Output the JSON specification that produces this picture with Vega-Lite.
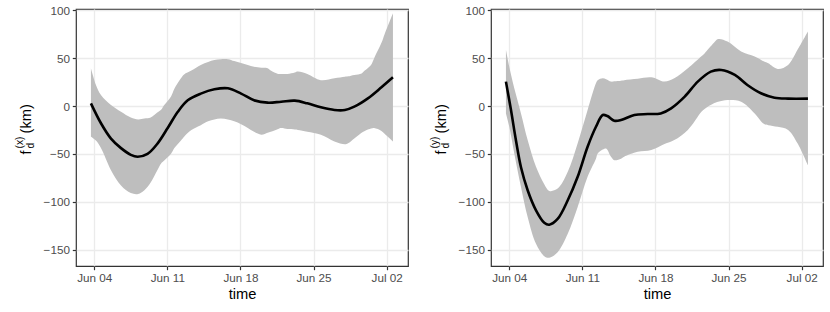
{
  "$schema": "https://vega.github.io/schema/vega-lite/v6.json",
  "padding": {"left": 13, "top": 4, "right": 0, "bottom": 0},
  "bounds": "flush",
  "spacing": 83,
  "config": {
    "view": {"stroke": "#333333", "strokeWidth": 1.2},
    "axis": {"domain": false, "tickColor": "#333333", "tickSize": 3.7, "tickWidth": 1.2, "labelColor": "#4D4D4D", "labelFont": "Liberation Sans", "labelFontSize": 11.7, "labelPadding": 2.9, "titleFont": "Liberation Sans", "titleFontSize": 14.7, "titleFontWeight": "normal", "titleColor": "#000000", "gridColor": "#EBEBEB", "gridWidth": 1.3}
  },
  "datasets": {
    "lx_band": [
      {"t": "2020-06-03T16:19", "lo": -32, "hi": 39.5},
      {"t": "2020-06-04T03:50", "lo": -36, "hi": 22},
      {"t": "2020-06-04T15:22", "lo": -44, "hi": 11.5},
      {"t": "2020-06-05T14:24", "lo": -67, "hi": 1},
      {"t": "2020-06-06T13:26", "lo": -83, "hi": -6},
      {"t": "2020-06-07T12:00", "lo": -91, "hi": -12},
      {"t": "2020-06-08T04:48", "lo": -92, "hi": -14},
      {"t": "2020-06-08T19:12", "lo": -88, "hi": -13},
      {"t": "2020-06-09T09:36", "lo": -80, "hi": -12},
      {"t": "2020-06-10T00:00", "lo": -68, "hi": -7},
      {"t": "2020-06-10T09:36", "lo": -60, "hi": -4},
      {"t": "2020-06-10T16:48", "lo": -57, "hi": 1},
      {"t": "2020-06-11T08:24", "lo": -50, "hi": 10},
      {"t": "2020-06-11T16:05", "lo": -44, "hi": 18},
      {"t": "2020-06-12T07:12", "lo": -36, "hi": 29},
      {"t": "2020-06-12T14:24", "lo": -32, "hi": 33},
      {"t": "2020-06-13T07:12", "lo": -25, "hi": 37},
      {"t": "2020-06-14T04:48", "lo": -20, "hi": 43},
      {"t": "2020-06-14T21:36", "lo": -16, "hi": 46},
      {"t": "2020-06-15T12:00", "lo": -14, "hi": 48},
      {"t": "2020-06-16T02:24", "lo": -13, "hi": 49},
      {"t": "2020-06-16T19:12", "lo": -14, "hi": 49},
      {"t": "2020-06-17T09:36", "lo": -16, "hi": 47},
      {"t": "2020-06-18T01:26", "lo": -19, "hi": 45},
      {"t": "2020-06-18T16:48", "lo": -23, "hi": 43},
      {"t": "2020-06-19T07:12", "lo": -27, "hi": 41},
      {"t": "2020-06-20T00:00", "lo": -30, "hi": 40},
      {"t": "2020-06-20T14:24", "lo": -28, "hi": 39.5},
      {"t": "2020-06-20T21:36", "lo": -27, "hi": 37},
      {"t": "2020-06-21T14:24", "lo": -24, "hi": 33.5},
      {"t": "2020-06-21T21:36", "lo": -23, "hi": 33.5},
      {"t": "2020-06-22T12:00", "lo": -24, "hi": 33.5},
      {"t": "2020-06-23T04:48", "lo": -24.5, "hi": 35},
      {"t": "2020-06-23T12:00", "lo": -25, "hi": 36},
      {"t": "2020-06-24T09:36", "lo": -27, "hi": 33.5},
      {"t": "2020-06-25T16:48", "lo": -30, "hi": 27},
      {"t": "2020-06-27T00:00", "lo": -37, "hi": 29},
      {"t": "2020-06-28T00:00", "lo": -40, "hi": 30.5},
      {"t": "2020-06-28T07:12", "lo": -39, "hi": 31},
      {"t": "2020-06-28T21:36", "lo": -34, "hi": 32.5},
      {"t": "2020-06-29T14:24", "lo": -28, "hi": 34},
      {"t": "2020-06-29T21:36", "lo": -26, "hi": 37},
      {"t": "2020-06-30T12:00", "lo": -23.5, "hi": 43},
      {"t": "2020-06-30T19:12", "lo": -23, "hi": 50},
      {"t": "2020-07-01T12:00", "lo": -26, "hi": 66},
      {"t": "2020-07-01T19:12", "lo": -29, "hi": 75},
      {"t": "2020-07-02T14:24", "lo": -37, "hi": 97}
    ],
    "lx_mean": [
      {"t": "2020-06-03T16:19", "m": 2.8},
      {"t": "2020-06-04T15:22", "m": -18},
      {"t": "2020-06-05T14:24", "m": -34},
      {"t": "2020-06-06T13:26", "m": -44},
      {"t": "2020-06-07T12:00", "m": -51},
      {"t": "2020-06-08T03:36", "m": -53},
      {"t": "2020-06-09T02:24", "m": -50},
      {"t": "2020-06-10T01:41", "m": -39},
      {"t": "2020-06-11T00:43", "m": -23},
      {"t": "2020-06-12T00:00", "m": -6},
      {"t": "2020-06-12T22:48", "m": 6},
      {"t": "2020-06-14T04:48", "m": 13},
      {"t": "2020-06-15T12:00", "m": 17.5},
      {"t": "2020-06-16T19:12", "m": 18.5},
      {"t": "2020-06-18T01:26", "m": 13},
      {"t": "2020-06-19T07:12", "m": 6},
      {"t": "2020-06-20T14:24", "m": 3.5},
      {"t": "2020-06-21T21:36", "m": 4.5},
      {"t": "2020-06-23T04:48", "m": 5.6},
      {"t": "2020-06-24T09:36", "m": 2.8},
      {"t": "2020-06-25T16:48", "m": -1.4},
      {"t": "2020-06-27T00:00", "m": -4.2},
      {"t": "2020-06-28T00:00", "m": -4.2},
      {"t": "2020-06-28T21:36", "m": -0.7},
      {"t": "2020-06-30T04:48", "m": 8},
      {"t": "2020-07-01T12:00", "m": 19.6},
      {"t": "2020-07-02T14:24", "m": 30}
    ],
    "ry_band": [
      {"t": "2020-06-03T16:19", "lo": -7.7, "hi": 58.7},
      {"t": "2020-06-04T00:00", "lo": -21.7, "hi": 41},
      {"t": "2020-06-04T11:31", "lo": -49.6, "hi": 18.5},
      {"t": "2020-06-05T02:53", "lo": -84.6, "hi": -7.7},
      {"t": "2020-06-05T18:14", "lo": -116, "hi": -35.6},
      {"t": "2020-06-06T13:26", "lo": -144, "hi": -63.6},
      {"t": "2020-06-07T08:24", "lo": -157, "hi": -81.8},
      {"t": "2020-06-07T19:55", "lo": -158.6, "hi": -88.7},
      {"t": "2020-06-08T15:07", "lo": -152.7, "hi": -86.3},
      {"t": "2020-06-09T14:24", "lo": -133.5, "hi": -68.8},
      {"t": "2020-06-10T13:12", "lo": -105.5, "hi": -39},
      {"t": "2020-06-11T12:00", "lo": -74, "hi": -4.2},
      {"t": "2020-06-12T07:12", "lo": -55, "hi": 23.8},
      {"t": "2020-06-12T11:17", "lo": -49.6, "hi": 27},
      {"t": "2020-06-12T22:48", "lo": -45.5, "hi": 29},
      {"t": "2020-06-13T06:29", "lo": -44.4, "hi": 28},
      {"t": "2020-06-13T17:46", "lo": -53, "hi": 25.5},
      {"t": "2020-06-14T01:26", "lo": -56.6, "hi": 25.8},
      {"t": "2020-06-14T16:48", "lo": -55, "hi": 26.5},
      {"t": "2020-06-15T00:00", "lo": -53, "hi": 27},
      {"t": "2020-06-16T07:12", "lo": -47.9, "hi": 28.5},
      {"t": "2020-06-17T14:24", "lo": -46, "hi": 30},
      {"t": "2020-06-18T20:38", "lo": -39.8, "hi": 25.5},
      {"t": "2020-06-19T19:12", "lo": -35.6, "hi": 29},
      {"t": "2020-06-21T02:24", "lo": -25, "hi": 39.5},
      {"t": "2020-06-22T09:36", "lo": -6, "hi": 52},
      {"t": "2020-06-22T16:48", "lo": -3, "hi": 55},
      {"t": "2020-06-23T14:24", "lo": 2.8, "hi": 66},
      {"t": "2020-06-24T00:00", "lo": 4.5, "hi": 70},
      {"t": "2020-06-24T21:36", "lo": 6.3, "hi": 67.4},
      {"t": "2020-06-26T04:48", "lo": 4.5, "hi": 57},
      {"t": "2020-06-27T12:00", "lo": -7.7, "hi": 51.7},
      {"t": "2020-06-28T09:36", "lo": -18.9, "hi": 46.5},
      {"t": "2020-06-28T19:12", "lo": -20, "hi": 44.7},
      {"t": "2020-06-29T16:48", "lo": -21.7, "hi": 38.8},
      {"t": "2020-06-30T16:48", "lo": -25, "hi": 43},
      {"t": "2020-07-01T14:24", "lo": -39, "hi": 58.7},
      {"t": "2020-07-02T14:24", "lo": -62, "hi": 78}
    ],
    "ry_mean": [
      {"t": "2020-06-03T16:19", "m": 25.5},
      {"t": "2020-06-04T03:50", "m": -4},
      {"t": "2020-06-04T15:22", "m": -36},
      {"t": "2020-06-05T02:53", "m": -64},
      {"t": "2020-06-05T18:14", "m": -88},
      {"t": "2020-06-06T13:26", "m": -109},
      {"t": "2020-06-07T08:24", "m": -122},
      {"t": "2020-06-07T19:55", "m": -124},
      {"t": "2020-06-08T15:07", "m": -118},
      {"t": "2020-06-09T14:24", "m": -98.5},
      {"t": "2020-06-10T13:12", "m": -74},
      {"t": "2020-06-11T12:00", "m": -42.6},
      {"t": "2020-06-12T07:12", "m": -21.7},
      {"t": "2020-06-12T22:48", "m": -9.4},
      {"t": "2020-06-13T09:36", "m": -10.5},
      {"t": "2020-06-14T01:26", "m": -15.4},
      {"t": "2020-06-14T16:48", "m": -14.7},
      {"t": "2020-06-15T23:31", "m": -9.4},
      {"t": "2020-06-17T06:14", "m": -8.4},
      {"t": "2020-06-18T12:00", "m": -7.7},
      {"t": "2020-06-19T12:00", "m": -2.4},
      {"t": "2020-06-20T19:12", "m": 9.8},
      {"t": "2020-06-22T01:12", "m": 25.5},
      {"t": "2020-06-23T07:12", "m": 36},
      {"t": "2020-06-24T07:12", "m": 37.7},
      {"t": "2020-06-25T14:24", "m": 32.5},
      {"t": "2020-06-26T19:12", "m": 22},
      {"t": "2020-06-28T02:24", "m": 13.3},
      {"t": "2020-06-29T09:36", "m": 8.7},
      {"t": "2020-06-30T16:48", "m": 7.7},
      {"t": "2020-07-02T14:24", "m": 7.7}
    ]
  },
  "hconcat": [
    {
      "width": 332, "height": 257,
      "resolve": {"axis": {"x": "independent", "y": "independent"}},
      "layer": [
        {
          "data": {"name": "lx_band"},
          "mark": {"type": "area", "color": "#BEBEBE", "interpolate": "catmull-rom"},
          "encoding": {
            "x": {"field": "t", "type": "temporal",
              "scale": {"domain": [{"year": 2020, "month": 6, "date": 2, "hours": 6}, {"year": 2020, "month": 7, "date": 4, "hours": 1}], "nice": false},
              "axis": {"orient": "bottom", "title": "time", "format": "%b %d", "labelFlush": false, "labelOverlap": false, "titlePadding": 2,
                "values": [{"year": 2020, "month": 6, "date": 4}, {"year": 2020, "month": 6, "date": 11}, {"year": 2020, "month": 6, "date": 18}, {"year": 2020, "month": 6, "date": 25}, {"year": 2020, "month": 7, "date": 2}]}},
            "y": {"field": "lo", "type": "quantitative",
              "scale": {"domain": [-167.2, 101.4], "nice": false, "zero": false},
              "axis": {"orient": "left", "values": [-150, -100, -50, 0, 50, 100], "title": "f", "titleAngle": -90, "titleAlign": "left", "titleBaseline": "alphabetic", "titleX": -46, "titleY": 145}},
            "y2": {"field": "hi"}
          }
        },
        {
          "data": {"name": "lx_mean"},
          "mark": {"type": "line", "color": "#000000", "strokeWidth": 2.6, "interpolate": "catmull-rom"},
          "encoding": {
            "x": {"field": "t", "type": "temporal",
              "axis": {"orient": "bottom", "title": null, "labels": false, "ticks": false, "gridWidth": 0.7,
                "values": [{"year": 2020, "month": 6, "date": 7, "hours": 12}, {"year": 2020, "month": 6, "date": 14, "hours": 12}, {"year": 2020, "month": 6, "date": 21, "hours": 12}, {"year": 2020, "month": 6, "date": 28, "hours": 12}]}},
            "y": {"field": "m", "type": "quantitative",
              "axis": {"orient": "left", "values": [-125, -75, -25, 25, 75], "labels": false, "ticks": false, "gridWidth": 0.7, "title": "(km)", "titleAngle": -90, "titleAlign": "left", "titleBaseline": "alphabetic", "titleX": -46, "titleY": 124}}
          }
        },
        {
          "data": {"name": "lx_mean"},
          "mark": {"type": "point", "opacity": 0},
          "encoding": {
            "x": {"field": "t", "type": "temporal", "axis": null},
            "y": {"field": "m", "type": "quantitative",
              "axis": {"orient": "left", "labels": false, "ticks": false, "grid": false, "title": "(x)", "titleFontSize": 10.3, "titleAngle": -90, "titleAlign": "left", "titleBaseline": "alphabetic", "titleX": -54, "titleY": 139}}
          }
        },
        {
          "data": {"name": "lx_mean"},
          "mark": {"type": "point", "opacity": 0},
          "encoding": {
            "x": {"field": "t", "type": "temporal", "axis": null},
            "y": {"field": "m", "type": "quantitative",
              "axis": {"orient": "left", "labels": false, "ticks": false, "grid": false, "title": "d", "titleFontSize": 10.3, "titleAngle": -90, "titleAlign": "left", "titleBaseline": "alphabetic", "titleX": -43, "titleY": 139}}
          }
        }
      ]
    },
    {
      "width": 332, "height": 257,
      "resolve": {"axis": {"x": "independent", "y": "independent"}},
      "layer": [
        {
          "data": {"name": "ry_band"},
          "mark": {"type": "area", "color": "#BEBEBE", "interpolate": "catmull-rom"},
          "encoding": {
            "x": {"field": "t", "type": "temporal",
              "scale": {"domain": [{"year": 2020, "month": 6, "date": 2, "hours": 6}, {"year": 2020, "month": 7, "date": 4, "hours": 1}], "nice": false},
              "axis": {"orient": "bottom", "title": "time", "format": "%b %d", "labelFlush": false, "labelOverlap": false, "titlePadding": 2,
                "values": [{"year": 2020, "month": 6, "date": 4}, {"year": 2020, "month": 6, "date": 11}, {"year": 2020, "month": 6, "date": 18}, {"year": 2020, "month": 6, "date": 25}, {"year": 2020, "month": 7, "date": 2}]}},
            "y": {"field": "lo", "type": "quantitative",
              "scale": {"domain": [-167.2, 101.4], "nice": false, "zero": false},
              "axis": {"orient": "left", "values": [-150, -100, -50, 0, 50, 100], "title": "f", "titleAngle": -90, "titleAlign": "left", "titleBaseline": "alphabetic", "titleX": -46, "titleY": 145}},
            "y2": {"field": "hi"}
          }
        },
        {
          "data": {"name": "ry_mean"},
          "mark": {"type": "line", "color": "#000000", "strokeWidth": 2.6, "interpolate": "catmull-rom"},
          "encoding": {
            "x": {"field": "t", "type": "temporal",
              "axis": {"orient": "bottom", "title": null, "labels": false, "ticks": false, "gridWidth": 0.7,
                "values": [{"year": 2020, "month": 6, "date": 7, "hours": 12}, {"year": 2020, "month": 6, "date": 14, "hours": 12}, {"year": 2020, "month": 6, "date": 21, "hours": 12}, {"year": 2020, "month": 6, "date": 28, "hours": 12}]}},
            "y": {"field": "m", "type": "quantitative",
              "axis": {"orient": "left", "values": [-125, -75, -25, 25, 75], "labels": false, "ticks": false, "gridWidth": 0.7, "title": "(km)", "titleAngle": -90, "titleAlign": "left", "titleBaseline": "alphabetic", "titleX": -46, "titleY": 124}}
          }
        },
        {
          "data": {"name": "ry_mean"},
          "mark": {"type": "point", "opacity": 0},
          "encoding": {
            "x": {"field": "t", "type": "temporal", "axis": null},
            "y": {"field": "m", "type": "quantitative",
              "axis": {"orient": "left", "labels": false, "ticks": false, "grid": false, "title": "(y)", "titleFontSize": 10.3, "titleAngle": -90, "titleAlign": "left", "titleBaseline": "alphabetic", "titleX": -54, "titleY": 139}}
          }
        },
        {
          "data": {"name": "ry_mean"},
          "mark": {"type": "point", "opacity": 0},
          "encoding": {
            "x": {"field": "t", "type": "temporal", "axis": null},
            "y": {"field": "m", "type": "quantitative",
              "axis": {"orient": "left", "labels": false, "ticks": false, "grid": false, "title": "d", "titleFontSize": 10.3, "titleAngle": -90, "titleAlign": "left", "titleBaseline": "alphabetic", "titleX": -43, "titleY": 139}}
          }
        }
      ]
    }
  ]
}
